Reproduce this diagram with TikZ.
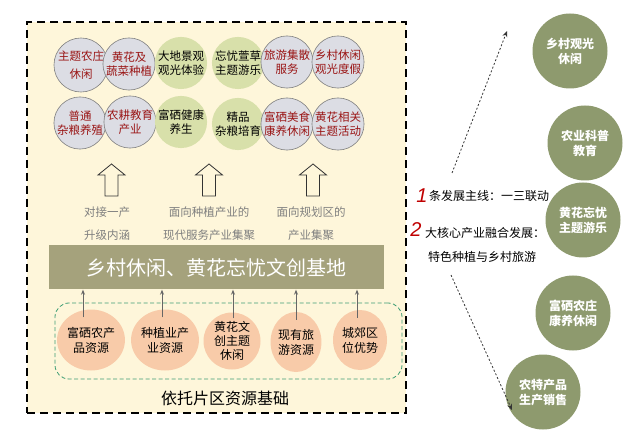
\documentclass[tikz,border=0pt]{standalone}
\usepackage{fontspec}
\setmainfont{Noto Sans CJK SC}
\newfontfamily\numfont{Liberation Sans}
\usetikzlibrary{arrows.meta,shapes.geometric}
\definecolor{cream}{HTML}{FEF6DA}
\definecolor{greyfill}{HTML}{DCDDE4}
\definecolor{greyline}{HTML}{808080}
\definecolor{darkred}{HTML}{9A1515}
\definecolor{greenfill}{HTML}{D8E0AA}
\definecolor{olive}{HTML}{A5A27C}
\definecolor{peach}{HTML}{F8CBA9}
\definecolor{dashgreen}{HTML}{3E9E74}
\definecolor{rightolive}{HTML}{8E9A6E}
\definecolor{greytext}{HTML}{7F7F7F}
\definecolor{numred}{HTML}{C00000}
\tikzset{
  greyc/.style={circle, draw=greyline, line width=0.6pt, fill=greyfill, minimum size=52pt, inner sep=0pt,
    text=darkred, align=center, font=\fontsize{11.5}{14}\selectfont},
  greenc/.style={circle, fill=greenfill, minimum size=52pt, inner sep=0pt,
    text=black, align=center, font=\fontsize{11.5}{14}\selectfont},
  orangec/.style={ellipse, fill=peach, inner sep=0pt, text=black, align=center,
    font=\fontsize{12}{15}\selectfont},
  rightc/.style={circle, fill=rightolive, minimum size=75pt, inner sep=0pt, text=white, align=center,
    font=\bfseries\fontsize{12}{15}\selectfont},
  greylabel/.style={text=greytext, align=center, font=\fontsize{11.5}{23}\selectfont},
  smallarr/.style={draw=black!60, line width=0.8pt, -{Stealth[length=5pt,width=4pt]}},
  hollow/.style={draw=black!80, line width=0.8pt, line join=miter},
  darr/.style={draw=black!80, line width=0.8pt, dash pattern=on 2pt off 2pt, -{Stealth[length=6pt,width=5pt]}},
  plain/.style={text=black, font=\fontsize{12}{15}\selectfont, anchor=west, inner sep=0pt},
}
\begin{document}
\begin{tikzpicture}[x=1pt,y=-1pt]
\useasboundingbox (0,0) rectangle (629,438);
\fill[white] (0,0) rectangle (629,438);

% outer dashed box
\node[draw=black, fill=cream, line width=2pt, dash pattern=on 8pt off 5pt,
  minimum width=379pt, minimum height=391pt, inner sep=0pt] (base) at (216.5,217.5) {};

% top row circles
\node[greyc] (a1) at (81,65) {主题农庄\\[4pt]休闲};
\node[greyc] (a2) at (129,64) {黄花及\\蔬菜种植};
\node[greenc] (a3) at (181,63) {大地景观\\观光体验};
\node[greenc] (a4) at (238,63) {忘忧萱草\\主题游乐};
\node[greyc] (a5) at (287,62) {旅游集散\\服务};
\node[greyc] (a6) at (338,62) {乡村休闲\\观光度假};

\node[greyc] (b1) at (80,123) {普通\\杂粮养殖};
\node[greyc] (b2) at (130,122) {农耕教育\\产业};
\node[greenc] (b3) at (181,122) {富硒健康\\养生};
\node[greenc] (b4) at (238,124) {精品\\杂粮培育};
\node[greyc] (b5) at (287,124) {富硒美食\\康养休闲};
\node[greyc] (b6) at (338,124) {黄花相关\\主题活动};

% hollow arrows
\foreach \cx in {111.5,209,313}{
  \draw[hollow] (\cx,164) -- (\cx+13.5,175) -- (\cx+6.5,175) -- (\cx+6.5,196)
    -- (\cx-6.5,196) -- (\cx-6.5,175) -- (\cx-13.5,175) -- cycle;
}

% grey labels
\node[greylabel] (t1) at (107,223.5) {对接一产\\升级内涵};
\node[greylabel] (t2) at (209,223.5) {面向种植产业的\\现代服务产业集聚};
\node[greylabel] (t3) at (311,223.5) {面向规划区的\\产业集聚};

% banner
\node[fill=olive, minimum width=335pt, minimum height=44pt, inner sep=0pt, text=white,
  font=\fontsize{20}{24}\selectfont] (banner) at (216.5,267.5) {乡村休闲、黄花忘忧文创基地};

% resource group
\node[draw=dashgreen, line width=0.8pt, dash pattern=on 4pt off 2.5pt, rounded corners=14pt,
  minimum width=347pt, minimum height=76pt, inner sep=0pt] (res) at (228.5,341) {};

\node[orangec, minimum width=57pt, minimum height=61pt] (o1) at (91,340) {富硒农产\\品资源};
\node[orangec, minimum width=57pt, minimum height=61pt] (o2) at (165,340) {种植业产\\业资源};
\node[orangec, minimum width=57pt, minimum height=57pt, font=\fontsize{12}{14}\selectfont] (o3) at (232,341) {黄花文\\创主题\\休闲};
\node[orangec, minimum width=49pt, minimum height=60pt] (o4) at (296,342) {现有旅\\游资源};
\node[orangec, minimum width=54pt, minimum height=60pt] (o5) at (360,340) {城郊区\\位优势};

\draw[smallarr] ([xshift=-8pt,yshift=-8pt]o1.north) -- ([xshift=-8pt]o1.north |- banner.south);
\draw[smallarr] ([xshift=-3pt,yshift=-8pt]o2.north) -- ([xshift=-3pt]o2.north |- banner.south);
\draw[smallarr] ([xshift=1pt,yshift=-6pt]o3.north) -- ([xshift=1pt]o3.north |- banner.south);
\draw[smallarr] ([yshift=-8pt]o4.north) -- (o4.north |- banner.south);
\draw[smallarr] ([xshift=-3pt,yshift=-8pt]o5.north) -- ([xshift=-3pt]o5.north |- banner.south);

\node[text=black, font=\fontsize{16}{20}\selectfont] (basis) at (225,398) {依托片区资源基础};

% right side
\node[rightc] (r1) at (570,51) {乡村观光\\休闲};
\node[rightc] (r2) at (585,143) {农业科普\\教育};
\node[rightc] (r3) at (583,220) {黄花忘忧\\主题游乐};
\node[rightc] (r4) at (573,313) {富硒农庄\\康养休闲};
\node[rightc] (r5) at (543,392) {农特产品\\生产销售};

\node[text=numred, font=\numfont\itshape\fontsize{20}{24}\selectfont, inner sep=0pt] (n1) at (422,196) {1};
\node[plain] (l1) at (429,196) {条发展主线：一三联动};
\node[text=numred, font=\numfont\itshape\fontsize{20}{24}\selectfont, inner sep=0pt] (n2) at (416,230) {2};
\node[plain] (l2) at (425,233) {大核心产业融合发展：};
\node[plain] (l3) at (428,257) {特色种植与乡村旅游};

\coordinate (d1s) at (452,173);
\coordinate (d1e) at (507,31);
\coordinate (d2s) at (451,275);
\coordinate (d2e) at (512,410);
\draw[darr] (d1s) -- (d1e);
\draw[darr] (d2s) -- (d2e);
\end{tikzpicture}
\end{document}
